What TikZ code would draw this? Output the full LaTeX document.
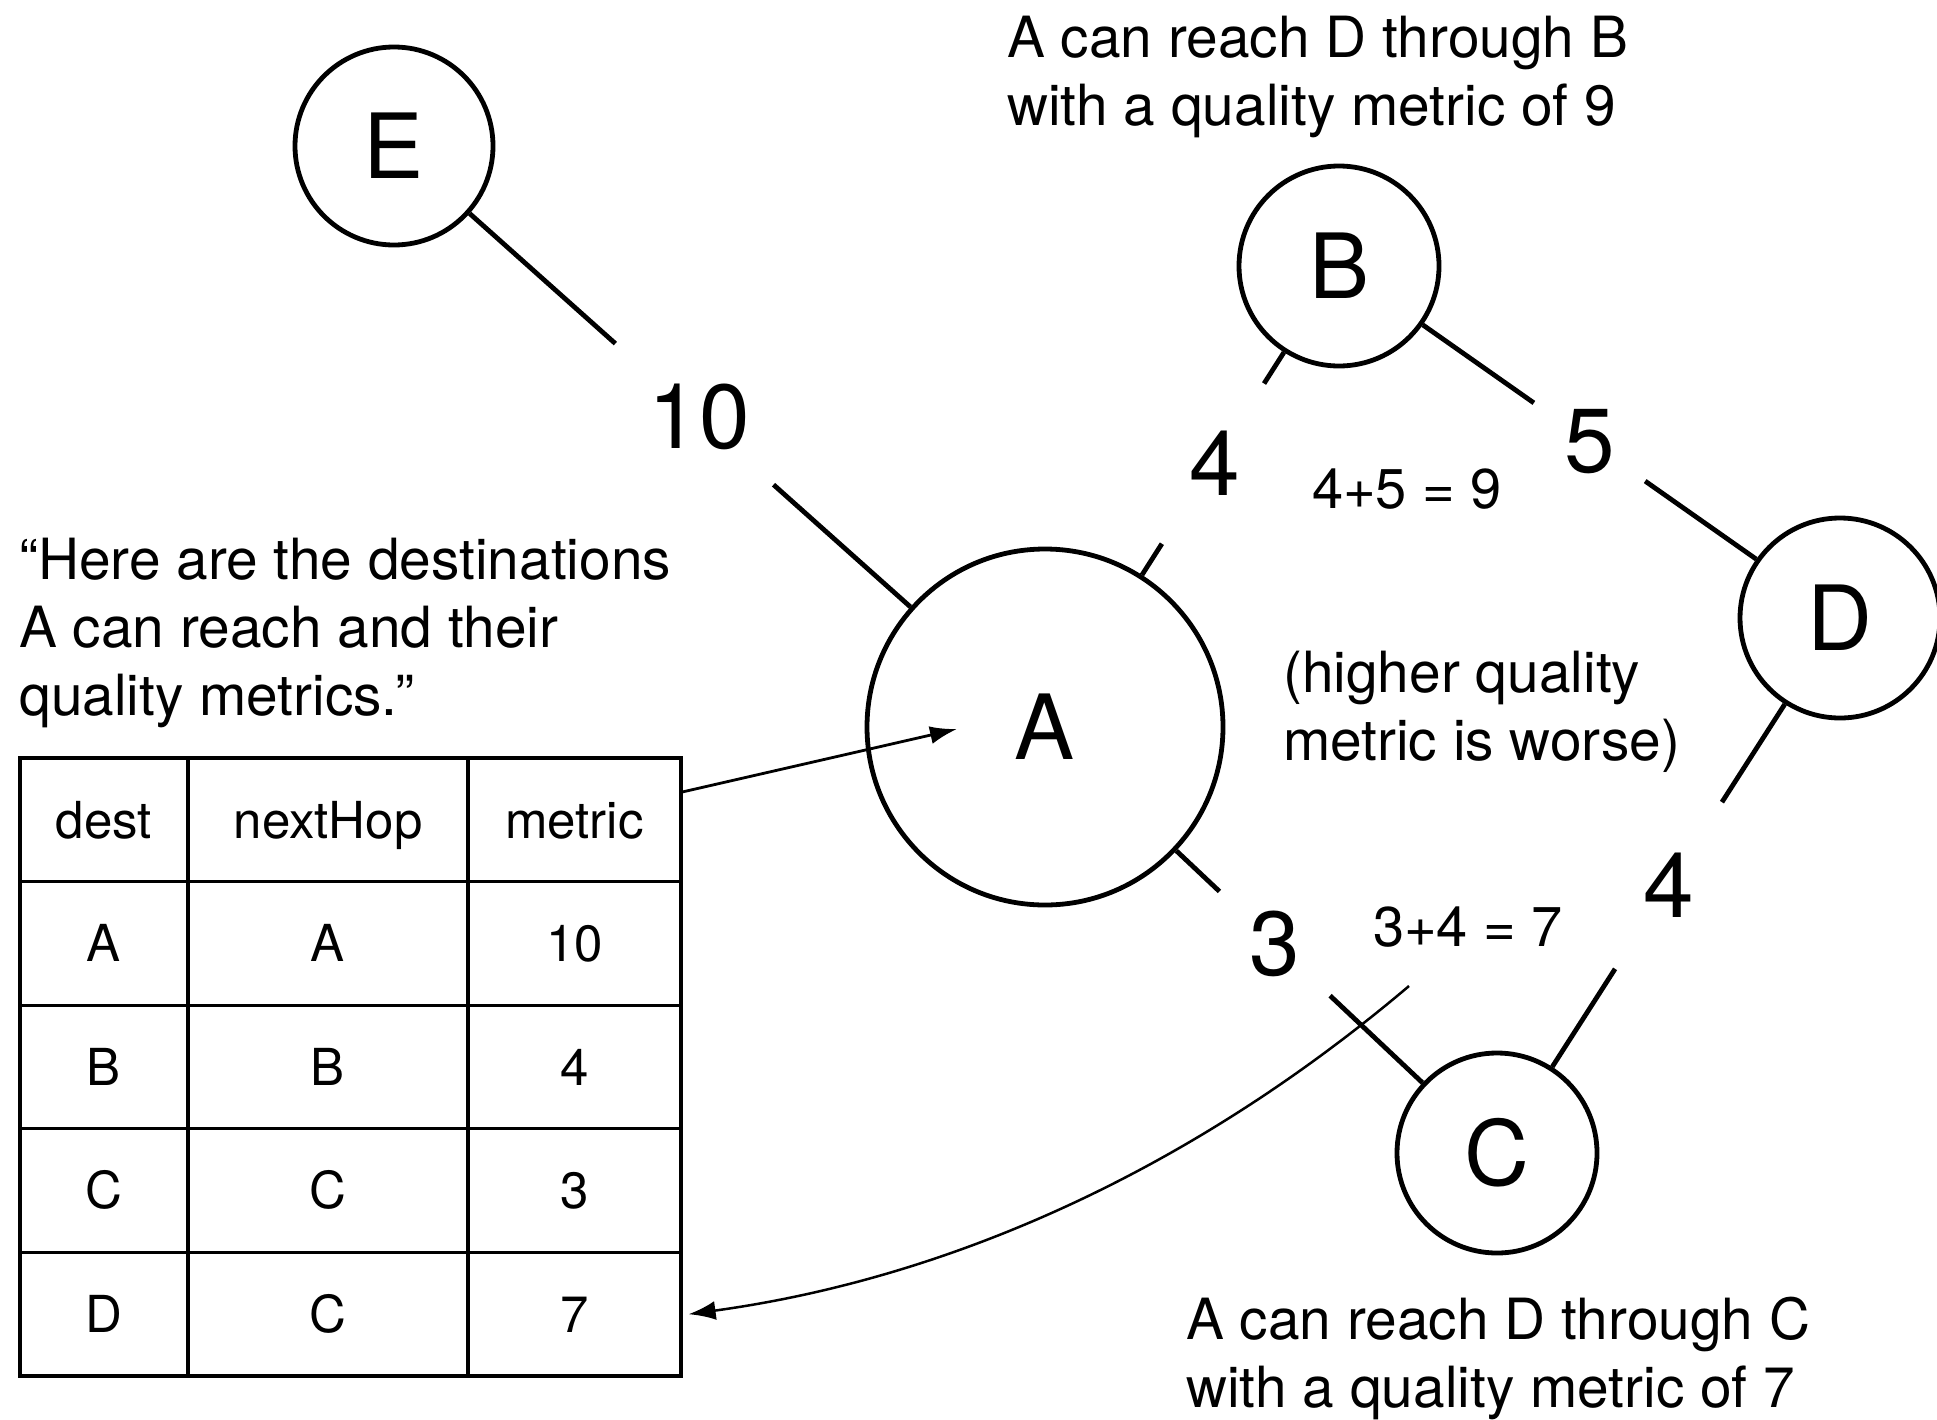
\documentclass[tikz,border=0pt]{standalone}
\usepackage{fontspec}
\setmainfont{TeX Gyre Heros}
\usetikzlibrary{calc,arrows.meta}
\begin{document}
\begin{tikzpicture}[x=1pt,y=-1pt,
  vtx/.style={circle,draw,line width=4.8pt,inner sep=0pt,font=\fontsize{90}{90}\selectfont},
  wt/.style={font=\fontsize{91}{91}\selectfont,inner sep=0pt},
  edge/.style={line width=4.8pt},
  note/.style={font=\fontsize{56.8}{68}\selectfont,align=left,inner sep=0pt,anchor=north west},
  sumtxt/.style={font=\fontsize{56}{56}\selectfont,inner sep=0pt},
  cell/.style={draw,line width=3.2pt,minimum height=123.6pt,inner sep=0pt,text height=36.6pt,text depth=0pt,font=\fontsize{51}{51}\selectfont},
  ptr/.style={line width=2.8pt,-{Latex[length=27pt,width=18pt]}},
  ptrc/.style={line width=2.5pt,-{Latex[length=27pt,width=19pt]}}
]
\useasboundingbox (0,0) rectangle (1937,1419);

% vertices
\node[vtx,minimum size=198pt] (E) at (394,146) {E};
\node[vtx,minimum size=200pt] (B) at (1339,266) {B};
\node[vtx,minimum size=200pt] (D) at (1840,618) {D};
\node[vtx,minimum size=200pt] (C) at (1497,1153) {C};
\node[vtx,minimum size=356pt] (A) at (1045,727) {A};

% edges with gaps for weights
\path (E) -- coordinate[pos=0.51] (mEA) (A);
\draw[edge] (E) -- ($(mEA)!106pt!(E)$);
\draw[edge] ($(mEA)!106pt!(A)$) -- (A);
\node[wt] (wEA) at ($(mEA)+(5,3)$) {10};

\path (A) -- coordinate[pos=0.50] (mAB) (B);
\draw[edge] (A) -- ($(mAB)!95pt!(A)$);
\draw[edge] ($(mAB)!95pt!(B)$) -- (B);
\node[wt] (wAB) at ($(mAB)+(2,0)$) {4};

\path (B) -- coordinate[pos=0.50] (mBD) (D);
\draw[edge] (B) -- ($(mBD)!68pt!(B)$);
\draw[edge] ($(mBD)!68pt!(D)$) -- (D);
\node[wt] (wBD) at (mBD) {5};

\path (A) -- coordinate[pos=0.40] (mAC) (C);
\draw[edge] (A) -- ($(mAC)!76pt!(A)$);
\draw[edge] ($(mAC)!76pt!(C)$) -- (C);
\node[wt] (wAC) at (mAC) {3};

\path (C) -- coordinate[pos=0.50] (mCD) (D);
\draw[edge] (C) -- ($(mCD)!99pt!(C)$);
\draw[edge] ($(mCD)!99pt!(D)$) -- (D);
\node[wt] (wCD) at (mCD) {4};

% annotations
\node[note] (noteB) at (1007,16) {A can reach D through B\\with a quality metric of 9};
\node[note] (noteC) at (1186,1297) {A can reach D through C\\with a quality metric of 7};
\node[note] (noteT) at (19,538) {“Here are the destinations\\A can reach and their\\quality metrics.”};
\node[note] (noteW) at (1283,651) {(higher quality\\metric is worse)};
\node[sumtxt] (sumB) at (1407,489) {4+5 = 9};
\node[sumtxt] (sumC) at (1468,927) {3+4 = 7};

% table
\node[cell,minimum width=168pt] (h1) at (104,819.8) {dest};
\node[cell,minimum width=280pt] (h2) at (328,819.8) {nextHop};
\node[cell,minimum width=213pt] (h3) at (574.5,819.8) {metric};
\node[cell,minimum width=168pt] (a1) at (104,943.4) {A};
\node[cell,minimum width=280pt] (a2) at (328,943.4) {A};
\node[cell,minimum width=213pt] (a3) at (574.5,943.4) {10};
\node[cell,minimum width=168pt] (b1) at (104,1067) {B};
\node[cell,minimum width=280pt] (b2) at (328,1067) {B};
\node[cell,minimum width=213pt] (b3) at (574.5,1067) {4};
\node[cell,minimum width=168pt] (c1) at (104,1190.6) {C};
\node[cell,minimum width=280pt] (c2) at (328,1190.6) {C};
\node[cell,minimum width=213pt] (c3) at (574.5,1190.6) {3};
\node[cell,minimum width=168pt] (d1) at (104,1314.2) {D};
\node[cell,minimum width=280pt] (d2) at (328,1314.2) {C};
\node[cell,minimum width=213pt] (d3) at (574.5,1314.2) {7};

% pointers
\coordinate (atip) at ($(A.center)+(-88,2)$);
\draw[ptr] ($(h3.north east)!0.28!(h3.south east)$) -- (atip);
\coordinate (cstart) at (1409,986);
\coordinate (dtip) at ($(d3.east)+(6,0)$);
\draw[ptrc] (cstart) .. controls (1193,1169) and (952,1278) .. (dtip);
\end{tikzpicture}
\end{document}
